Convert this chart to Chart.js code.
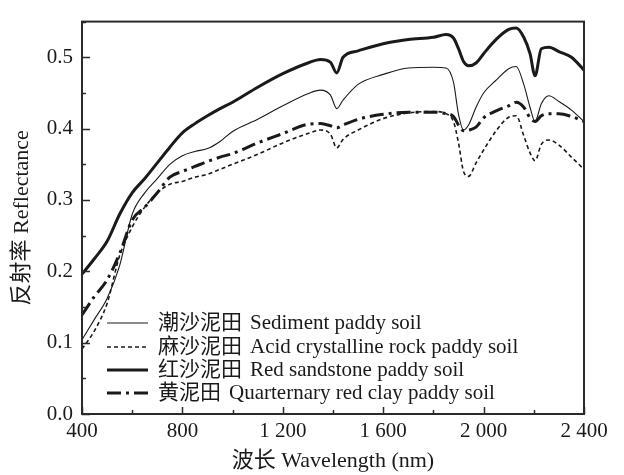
<!DOCTYPE html>
<html>
<head>
<meta charset="utf-8">
<script src="https://cdn.jsdelivr.net/npm/chart.js@4.4.1/dist/chart.umd.min.js"></script>
<style>
  html, body { margin: 0; padding: 0; background: #fff; }
</style>
</head>
<body>
<canvas id="spec" width="624" height="475"></canvas>
<script>
// wavelength grid (nm) shared by the four spectra
const wavelengths = [400, 450, 500, 550, 600, 650, 700, 750, 800, 850, 900, 950, 1000, 1100, 1200,
  1300, 1350, 1390, 1415, 1440, 1500, 1600, 1700, 1800, 1850, 1880, 1900, 1920, 1940, 1970,
  2000, 2050, 2100, 2130, 2160, 2185, 2205, 2230, 2260, 2300, 2350, 2400];

const sediment = [0.104, 0.133, 0.162, 0.208, 0.28, 0.31, 0.33, 0.35, 0.362, 0.368, 0.372, 0.382, 0.396, 0.413, 0.432,
  0.449, 0.454, 0.447, 0.428, 0.44, 0.462, 0.476, 0.485, 0.486, 0.485, 0.465, 0.42, 0.398, 0.405, 0.43,
  0.45, 0.468, 0.484, 0.487, 0.462, 0.43, 0.41, 0.435, 0.446, 0.438, 0.426, 0.41];

const acidRock = [0.091, 0.117, 0.155, 0.222, 0.262, 0.29, 0.31, 0.322, 0.326, 0.332, 0.336, 0.343, 0.35, 0.364, 0.38,
  0.393, 0.398, 0.392, 0.373, 0.385, 0.398, 0.414, 0.422, 0.424, 0.421, 0.41, 0.38, 0.34, 0.333, 0.352,
  0.37, 0.397, 0.416, 0.418, 0.39, 0.366, 0.355, 0.378, 0.384, 0.377, 0.36, 0.343];

const redSandstone = [0.196, 0.218, 0.242, 0.28, 0.31, 0.33, 0.352, 0.374, 0.394, 0.407, 0.418, 0.428, 0.437, 0.458, 0.477,
  0.492, 0.497, 0.493, 0.478, 0.5, 0.509, 0.519, 0.525, 0.528, 0.532, 0.527, 0.512, 0.494, 0.488, 0.492,
  0.505, 0.525, 0.539, 0.541, 0.528, 0.505, 0.474, 0.512, 0.514, 0.508, 0.5, 0.482];

const quaternary = [0.139, 0.165, 0.188, 0.225, 0.272, 0.29, 0.31, 0.332, 0.34, 0.347, 0.354, 0.36, 0.365, 0.38, 0.393,
  0.406, 0.407, 0.404, 0.401, 0.405, 0.413, 0.42, 0.423, 0.423, 0.421, 0.417, 0.405, 0.397, 0.398, 0.402,
  0.415, 0.425, 0.432, 0.437, 0.43, 0.415, 0.41, 0.418, 0.421, 0.421, 0.417, 0.41];

const seriesNames = [
  ['潮沙泥田', 'Sediment paddy soil'],
  ['麻沙泥田', 'Acid crystalline rock paddy soil'],
  ['红沙泥田', 'Red sandstone paddy soil'],
  ['黄泥田', 'Quarternary red clay paddy soil']
];

const xTicks = [400, 800, 1200, 1600, 2000, 2400];
const yTicks = [0, 0.1, 0.2, 0.3, 0.4, 0.5];

const serif = "'Liberation Serif', 'Times New Roman', 'Noto Sans CJK SC', serif";
const ink = '#1a1a1a';

function toPoints(vals) {
  return vals.map((v, i) => ({ x: wavelengths[i], y: v }));
}

// 1200 -> "1 200"
function groupDigits(v) {
  return String(v).replace(/\B(?=(\d{3})+(?!\d))/g, ' ');
}

// closed frame plus inward ticks (major + minor)
const frameTicks = {
  id: 'frameTicks',
  afterDatasetsDraw(chart) {
    const { ctx, chartArea: a, scales: { x, y } } = chart;
    ctx.save();
    ctx.strokeStyle = '#2a2a2a';
    ctx.lineWidth = 1.5;
    ctx.beginPath();
    for (let v = 400; v <= 2400; v += 200) {
      const px = Math.round(x.getPixelForValue(v)) + 0.5;
      const len = v % 400 === 0 ? 7 : 4;
      ctx.moveTo(px, a.bottom);
      ctx.lineTo(px, a.bottom - len);
    }
    for (let k = 0; k <= 11; k++) {
      const py = Math.round(y.getPixelForValue(k * 0.05)) + 0.5;
      const len = k % 2 === 0 ? 8 : 4;
      ctx.moveTo(a.left, py);
      ctx.lineTo(a.left + len, py);
    }
    ctx.stroke();
    ctx.lineWidth = 2;
    ctx.strokeRect(a.left, a.top, a.right - a.left, a.bottom - a.top);
    ctx.restore();
  }
};

// legend drawn inside the plot, lower left
const innerLegend = {
  id: 'innerLegend',
  afterDraw(chart) {
    const { ctx, chartArea: a } = chart;
    const rows = [91, 67, 44, 21];
    ctx.save();
    ctx.fillStyle = ink;
    ctx.textBaseline = 'middle';
    ctx.font = '21px ' + serif;
    chart.data.datasets.forEach((ds, i) => {
      const yy = a.bottom - rows[i];
      ctx.strokeStyle = ink;
      ctx.lineWidth = ds.borderWidth;
      ctx.setLineDash(ds.borderDash || []);
      ctx.beginPath();
      ctx.moveTo(a.left + 25, yy);
      ctx.lineTo(a.left + 66, yy);
      ctx.stroke();
      ctx.setLineDash([]);
      const [cn, en] = seriesNames[i];
      const x0 = a.left + 76;
      ctx.fillText(cn, x0, yy);
      ctx.fillText(en, x0 + ctx.measureText(cn).width + 8, yy);
    });
    ctx.restore();
  }
};

const styles = [
  { data: sediment, borderWidth: 1.1, borderDash: [] },
  { data: acidRock, borderWidth: 1.6, borderDash: [4, 3] },
  { data: redSandstone, borderWidth: 3, borderDash: [] },
  { data: quaternary, borderWidth: 3, borderDash: [14, 5, 3, 5] }
];

new Chart('spec', {
  type: 'line',
  data: {
    datasets: styles.map((s, i) => ({
      label: seriesNames[i].join(' '),
      data: toPoints(s.data),
      borderColor: ink,
      borderWidth: s.borderWidth,
      borderDash: s.borderDash,
      pointRadius: 0,
      fill: false,
      cubicInterpolationMode: 'monotone'
    }))
  },
  options: {
    responsive: false,
    animation: false,
    devicePixelRatio: 1,
    layout: { padding: { top: 10, right: 40, left: 5, bottom: 0 } },
    plugins: { legend: { display: false }, tooltip: { enabled: false } },
    scales: {
      x: {
        type: 'linear',
        min: 400,
        max: 2400,
        afterBuildTicks: s => { s.ticks = xTicks.map(v => ({ value: v })); },
        afterFit: s => { s.height = 61; },
        grid: { display: false, drawTicks: false },
        border: { display: false },
        ticks: {
          padding: 5,
          maxRotation: 0,
          autoSkip: false,
          color: ink,
          font: { family: serif, size: 21 },
          callback: v => groupDigits(v)
        },
        title: {
          display: true,
          text: '波长 Wavelength (nm)',
          color: ink,
          font: { family: serif, size: 22 },
          padding: { top: 2, bottom: 1 }
        }
      },
      y: {
        min: 0,
        max: 0.55,
        afterBuildTicks: s => { s.ticks = yTicks.map(v => ({ value: v })); },
        afterFit: s => { s.width = 77; },
        grid: { display: false, drawTicks: false },
        border: { display: false },
        ticks: {
          padding: 9,
          color: ink,
          font: { family: serif, size: 21 },
          callback: v => v.toFixed(1)
        },
        title: {
          display: true,
          text: '反射率 Reflectance',
          color: ink,
          font: { family: serif, size: 22 },
          padding: { top: 4, bottom: 2 }
        }
      }
    }
  },
  plugins: [frameTicks, innerLegend]
});
</script>
</body>
</html>
